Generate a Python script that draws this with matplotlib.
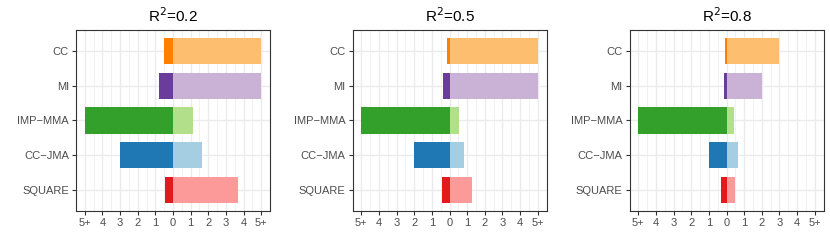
import matplotlib
matplotlib.use('Agg')
import matplotlib.pyplot as plt
from matplotlib.ticker import MultipleLocator

plt.rcParams['font.family'] = ['Liberation Sans', 'DejaVu Sans']

methods = ['SQUARE', 'CC\u2212JMA', 'IMP\u2212MMA', 'MI', 'CC']
titles = ['R$^{2}$=0.2', 'R$^{2}$=0.5', 'R$^{2}$=0.8']

# left (negative) and right (positive) extents, order as methods
left_vals = [
    [-0.45, -3.0, -5.0, -0.8, -0.5],
    [-0.4, -2.0, -5.0, -0.38, -0.17],
    [-0.34, -1.0, -5.0, -0.13, -0.06],
]
right_vals = [
    [3.7, 1.62, 1.15, 5.0, 5.0],
    [1.3, 0.8, 0.56, 5.0, 5.0],
    [0.5, 0.68, 0.4, 2.0, 2.95],
]

dark = ['#E31A1C', '#1F78B4', '#33A02C', '#6A3D9A', '#FF7F00']
light = ['#FB9A99', '#A6CEE3', '#B2DF8A', '#CAB2D6', '#FDBF6F']

xticks = [-5, -4, -3, -2, -1, 0, 1, 2, 3, 4, 5]
xticklabels = ['5+', '4', '3', '2', '1', '0', '1', '2', '3', '4', '5+']

fig = plt.figure(figsize=(8.3, 2.49), dpi=100)
W, H = 830, 249
lefts = [76, 352.5, 629.5]

for i in range(3):
    ax = fig.add_axes([lefts[i] / W, (H - 211) / H, 194 / W, 181 / H])
    y = list(range(1, len(methods) + 1))
    ax.barh(y, left_vals[i], height=0.75, color=dark, zorder=3)
    ax.barh(y, right_vals[i], height=0.75, color=light, zorder=3)
    ax.set_xlim(-5.5, 5.5)
    ax.set_ylim(0.4, 5.6)
    ax.set_xticks(xticks)
    ax.set_xticklabels(xticklabels)
    ax.xaxis.set_minor_locator(MultipleLocator(0.5))
    ax.set_yticks(y)
    ax.set_yticklabels(methods)
    ax.grid(which='major', color='#EBEBEB', linewidth=1.0, zorder=0)
    ax.grid(which='minor', axis='x', color='#EBEBEB', linewidth=0.5, zorder=0)
    ax.tick_params(which='minor', length=0)
    ax.tick_params(which='major', length=3, width=0.8, color='#333333',
                   labelcolor='#4D4D4D', labelsize=8, pad=2)
    for s in ax.spines.values():
        s.set_color('#333333')
        s.set_linewidth(0.8)
    ax.set_title(titles[i], fontsize=11, pad=6)

fig.savefig('out.png', dpi=100)
